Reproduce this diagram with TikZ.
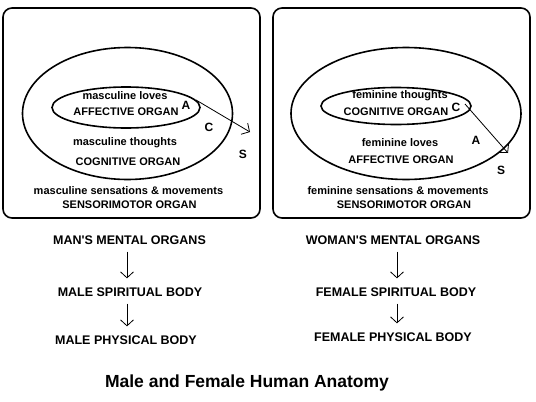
\documentclass[tikz,border=0pt]{standalone}
\usepackage{fontspec}
\setmainfont{Liberation Sans}
\usetikzlibrary{arrows.meta}
\tikzset{
  lbl/.style={font=\bfseries\fontsize{11}{13}\selectfont, inner sep=0pt},
  body/.style={font=\bfseries\fontsize{12.5}{14}\selectfont, inner sep=0pt},
  letter/.style={font=\bfseries\fontsize{12}{14}\selectfont, inner sep=0pt},
  frame/.style={line width=1.6pt, rounded corners=9pt},
  organ/.style={line width=1.6pt},
  chain/.style={->, thick, shorten <=7pt, shorten >=9pt},
}
\begin{document}
\begin{tikzpicture}[x=1pt, y=-1pt, >={Straight Barb[length=6pt, width=13pt]}]
        \useasboundingbox (0,0) rectangle (536,402);

        % Boxes
        \draw[frame] (3,8) rectangle (260,218);
        \draw[frame] (273,8) rectangle (530,218);

        % Man: outer and inner ellipses
        \draw[organ] (127.5,113.5) ellipse [x radius=105, y radius=66];
        \draw[organ] (126,107.5) ellipse [x radius=74, y radius=20.5];
        \node[lbl] (mloves) at (125,96) {masculine loves};
        \node[lbl] (maff) at (126,112) {AFFECTIVE ORGAN};
        \node[lbl] (mthou) at (125,143) {masculine thoughts};
        \node[lbl] (mcog) at (128,162) {COGNITIVE ORGAN};
        \node[lbl] (msens) at (128.5,191) {masculine sensations \& movements};
        \node[lbl] (mmot) at (129.5,205) {SENSORIMOTOR ORGAN};
        \node[letter] (mA) at (186,105) {A};
        \node[letter] (mC) at (209,127) {C};
        \node[letter] (mS) at (243,154) {S};
        \coordinate (mfrom) at (196,100);
        \coordinate (mto) at (250,132);
        \draw[->, thick] (mfrom) -- (mto);

        % Woman: outer and inner ellipses
        \draw[organ] (406,113.5) ellipse [x radius=115, y radius=66];
        \draw[organ] (396,106) ellipse [x radius=75, y radius=18.5];
        \node[lbl] (fthou) at (400,96) {feminine thoughts};
        \node[lbl] (fcog) at (396,112) {COGNITIVE ORGAN};
        \node[lbl] (floves) at (400,143) {feminine loves};
        \node[lbl] (faff) at (401,160) {AFFECTIVE ORGAN};
        \node[lbl] (fsens) at (398,191) {feminine sensations \& movements};
        \node[lbl] (fmot) at (404,205) {SENSORIMOTOR ORGAN};
        \node[letter] (fC) at (456,107) {C};
        \node[letter] (fA) at (476,140) {A};
        \node[letter] (fS) at (501,170) {S};
        \coordinate (ffrom) at (465,104);
        \coordinate (fto) at (508,153);
        \draw[->, thick] (ffrom) -- (fto);

        % Chains below
        \node[body] (mmind) at (129.5,240) {MAN\textquotesingle S MENTAL ORGANS};
        \node[body] (mspir) at (130,292) {MALE SPIRITUAL BODY};
        \node[body] (mphys) at (126,340) {MALE PHYSICAL BODY};
        \node[body] (fmind) at (393,240) {WOMAN\textquotesingle S MENTAL ORGANS};
        \node[body] (fspir) at (396,292) {FEMALE SPIRITUAL BODY};
        \node[body] (fphys) at (393,337) {FEMALE PHYSICAL BODY};
        \draw[chain] ([xshift=-2.5pt]mmind.south) -- ([xshift=-2.5pt]mmind.south |- mspir.north);
        \draw[chain] ([xshift=-3pt]mspir.south) -- ([xshift=-3pt]mspir.south |- mphys.north);
        \draw[chain] ([xshift=4pt]fmind.south) -- ([xshift=4pt]fmind.south |- fspir.north);
        \draw[chain] ([xshift=1pt]fspir.south) -- ([xshift=1pt]fspir.south |- fphys.north);

        \node[font=\bfseries\fontsize{17.5}{20}\selectfont, inner sep=0pt] (title) at (247,383) {Male and Female Human Anatomy};
\end{tikzpicture}
\end{document}
